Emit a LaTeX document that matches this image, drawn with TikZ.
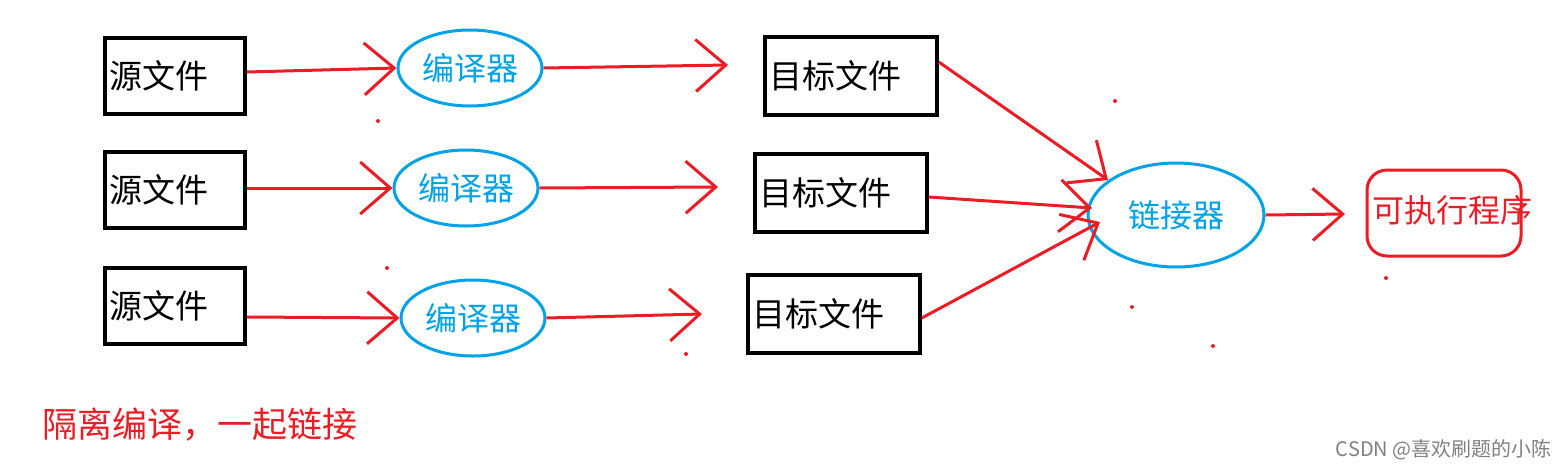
\documentclass[tikz,border=0pt]{standalone}
\usepackage{fontspec}
\newfontfamily\cjk{Noto Sans CJK SC}
\usetikzlibrary{arrows.meta,shapes.geometric}
\definecolor{myred}{HTML}{ED1C24}
\definecolor{myblue}{HTML}{00A2E8}
\begin{document}
\begin{tikzpicture}[x=0.5pt,y=-0.5pt,
  box/.style={draw=black,line width=1.8pt,minimum width=70pt,minimum height=38pt,font=\cjk\fontsize{16.5}{16.5}\selectfont,inner sep=0pt,text width=66pt,align=left},
  ell/.style={ellipse,draw=myblue,line width=1.5pt,minimum width=72pt,minimum height=38pt,text=myblue,font=\cjk\fontsize{16}{16}\selectfont,inner sep=0pt},
  arr/.style={draw=myred,line width=1.5pt,-{Straight Barb[length=15pt,width=26pt,line width=1.5pt]}},
  dot/.style={fill=myred,circle,inner sep=0pt,minimum size=2pt}]
\useasboundingbox (0,0) rectangle (1564,472);
\node[box] (s1) at (175,76) {源文件};
\node[box] (s2) at (175,190) {源文件};
\node[box] (s3) at (175,306) {源文件};
\node[ell] (e1) at (470,68) {编译器};
\node[ell] (e2) at (466,188) {编译器};
\node[ell] (e3) at (473,318) {编译器};
\node[box,minimum width=86pt,minimum height=39pt,text width=82pt] (t1) at (851,76) {目标文件};
\node[box,minimum width=86pt,minimum height=39pt,text width=82pt] (t2) at (841,193) {目标文件};
\node[box,minimum width=86pt,minimum height=39pt,text width=82pt] (t3) at (834,314) {目标文件};
\node[ell,minimum width=88pt,minimum height=52pt] (lk) at (1176,215) {链接器};
\node[draw=myred,line width=1.5pt,rounded corners=10pt,minimum width=77pt,minimum height=43pt] (ex) at (1444,213) {};
\node[text=myred,font=\cjk\fontsize{16}{16}\selectfont,anchor=west,inner sep=0pt] (exl) at (1372,210) {可执行程序};
\coordinate (a1) at (728,65); \coordinate (a2) at (718,187); \coordinate (a3) at (702,314);
\coordinate (l1) at (1108,180); \coordinate (l2) at (1092,208); \coordinate (l3) at (1100,222);
\coordinate (x1) at (1345,214);
\draw[arr] (s1.east|-0,72) -- (e1.west);
\draw[arr] (s2.east|-0,188) -- (e2.west);
\draw[arr] (s3.east|-0,317) -- (e3.west);
\draw[arr] (e1.east) -- (a1);
\draw[arr] (e2.east) -- (a2);
\draw[arr] (e3.east) -- (a3);
\draw[arr] (t1.east|-0,62) -- (l1);
\draw[arr] (t2.east|-0,197) -- (l2);
\draw[arr] (t3.east|-0,318) -- (l3);
\draw[arr] (lk.east) -- (x1);
\node[text=myred,font=\cjk\fontsize{17.5}{17.5}\selectfont,anchor=west,inner sep=0pt] (note) at (42,425) {隔离编译，一起链接};
\node[text=gray,font=\cjk\fontsize{10}{10}\selectfont,anchor=east,inner sep=0pt] (wm) at (1552,450) {CSDN @喜欢刷题的小陈};
\node[dot] (d1) at (378,121) {}; \node[dot] (d2) at (1115,101) {}; \node[dot] (d3) at (387,268) {};
\node[dot] (d4) at (1132,307) {}; \node[dot] (d5) at (686,354) {}; \node[dot] (d6) at (1213,346) {};
\node[dot] (d7) at (1386,278) {};
\end{tikzpicture}
\end{document}
